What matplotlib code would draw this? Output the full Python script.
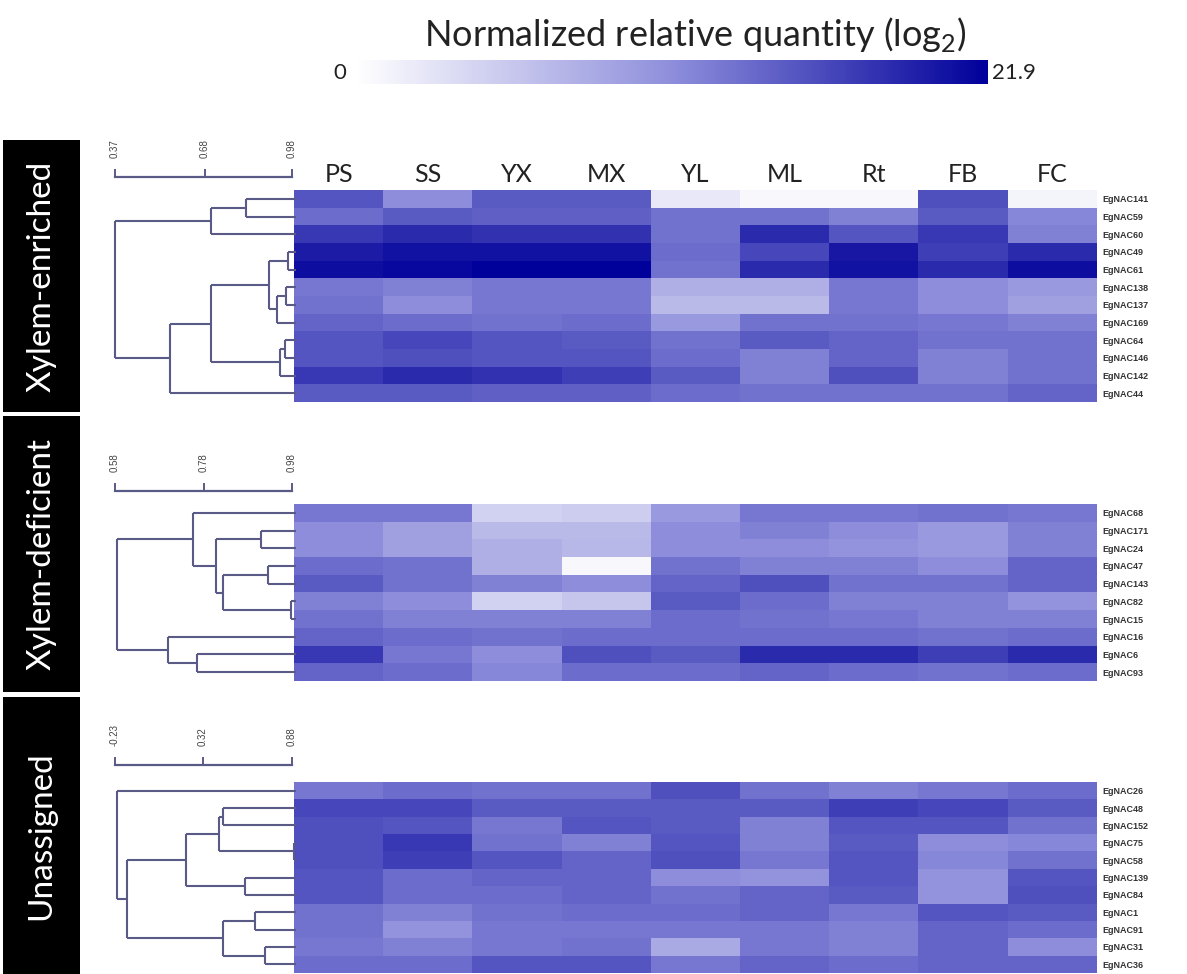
import matplotlib
matplotlib.use("Agg")
import matplotlib.pyplot as plt
import numpy as np
from matplotlib.colors import LinearSegmentedColormap, Normalize
from matplotlib.cm import ScalarMappable

plt.rcParams['font.family'] = ['Lato', 'DejaVu Sans']

# ---------------- data ----------------
tissues = ["PS", "SS", "YX", "MX", "YL", "ML", "Rt", "FB", "FC"]
vmin, vmax = 0.0, 21.9

genes_xe = ["EgNAC141", "EgNAC59", "EgNAC60", "EgNAC49", "EgNAC61", "EgNAC138",
            "EgNAC137", "EgNAC169", "EgNAC64", "EgNAC146", "EgNAC142", "EgNAC44"]
vals_xe = [
    [15.3, 11.0, 14.9, 14.9, 2.2, 0.7, 0.7, 15.8, 1.1],
    [13.6, 14.9, 14.5, 14.5, 13.1, 13.1, 12.0, 14.9, 11.4],
    [17.5, 18.6, 18.0, 18.0, 13.1, 18.6, 15.3, 17.5, 12.0],
    [19.7, 20.4, 20.4, 20.4, 13.6, 16.4, 20.1, 17.1, 18.6],
    [20.8, 21.2, 21.9, 21.9, 13.1, 18.6, 20.4, 18.6, 20.8],
    [12.7, 12.0, 12.7, 12.7, 7.7, 7.7, 12.7, 11.0, 9.9],
    [13.1, 11.0, 12.7, 12.7, 6.6, 6.6, 12.7, 11.0, 9.2],
    [14.2, 13.6, 13.1, 13.6, 9.9, 13.1, 13.1, 12.7, 12.0],
    [15.3, 16.4, 15.3, 14.9, 13.1, 14.9, 14.2, 13.1, 13.1],
    [15.3, 15.8, 15.3, 15.3, 13.6, 12.0, 14.2, 12.0, 13.1],
    [17.5, 18.6, 18.0, 17.1, 14.9, 12.0, 15.8, 12.0, 13.1],
    [14.9, 14.9, 14.5, 14.5, 13.6, 13.1, 13.1, 13.1, 14.2],
]
link_xe = [(0, 1, 0.82), (12, 2, 0.70), (3, 4, 0.965), (5, 6, 0.96), (15, 7, 0.93),
           (14, 16, 0.90), (8, 9, 0.955), (18, 10, 0.94), (17, 19, 0.70),
           (20, 11, 0.56), (13, 21, 0.37)]
ticks_xe = [0.37, 0.68, 0.98]

genes_xd = ["EgNAC68", "EgNAC171", "EgNAC24", "EgNAC47", "EgNAC143", "EgNAC82",
            "EgNAC15", "EgNAC16", "EgNAC6", "EgNAC93"]
vals_xd = [
    [12.7, 12.7, 4.4, 4.8, 9.9, 12.7, 12.7, 13.1, 12.7],
    [11.0, 9.2, 6.6, 6.6, 11.0, 12.0, 11.0, 9.9, 12.0],
    [11.0, 9.2, 7.7, 7.0, 11.0, 11.0, 10.5, 9.9, 12.0],
    [13.6, 13.1, 7.7, 0.7, 13.1, 12.0, 12.0, 11.0, 14.2],
    [14.9, 13.1, 12.0, 11.0, 14.2, 15.8, 13.1, 13.1, 14.2],
    [12.0, 11.0, 4.4, 5.5, 14.9, 13.6, 12.0, 12.0, 10.5],
    [13.1, 12.0, 12.0, 12.0, 13.6, 13.1, 12.7, 12.0, 12.0],
    [14.2, 13.6, 13.1, 13.6, 13.6, 13.6, 13.6, 13.1, 13.6],
    [17.5, 12.7, 11.0, 15.8, 14.9, 18.6, 18.6, 17.1, 18.6],
    [14.2, 13.6, 11.4, 13.6, 13.6, 14.2, 13.6, 13.1, 13.6],
]
link_xd = [(1, 2, 0.91), (3, 4, 0.925), (5, 6, 0.977), (11, 12, 0.823),
           (10, 13, 0.808), (0, 14, 0.757), (8, 9, 0.765), (7, 16, 0.699),
           (15, 17, 0.584)]
ticks_xd = [0.58, 0.78, 0.98]

genes_un = ["EgNAC26", "EgNAC48", "EgNAC152", "EgNAC75", "EgNAC58", "EgNAC139",
            "EgNAC84", "EgNAC1", "EgNAC91", "EgNAC31", "EgNAC36"]
vals_un = [
    [12.7, 13.6, 13.1, 13.1, 15.8, 13.1, 12.0, 12.7, 13.6],
    [16.4, 16.4, 14.9, 14.9, 14.9, 14.9, 17.1, 16.4, 14.9],
    [15.8, 15.3, 12.7, 15.3, 14.9, 12.0, 15.3, 15.3, 13.1],
    [15.8, 17.5, 13.1, 12.0, 15.3, 12.0, 14.9, 11.0, 11.4],
    [15.8, 17.1, 15.3, 14.2, 15.8, 12.7, 15.3, 11.4, 13.1],
    [15.3, 13.6, 14.2, 14.2, 11.0, 10.5, 15.3, 10.5, 15.3],
    [15.3, 13.6, 13.6, 14.2, 13.1, 14.2, 14.9, 10.5, 15.8],
    [13.1, 12.0, 13.1, 13.6, 13.6, 14.2, 12.7, 15.3, 14.9],
    [13.1, 10.5, 12.7, 12.7, 12.7, 12.7, 12.0, 14.2, 13.6],
    [12.7, 12.0, 12.7, 13.1, 8.3, 12.7, 12.0, 14.2, 11.0],
    [13.6, 13.6, 15.3, 15.3, 12.7, 14.2, 13.6, 14.2, 14.2],
]
link_un = [(1, 2, 0.445), (3, 4, 0.892), (11, 12, 0.425), (5, 6, 0.587),
           (13, 14, 0.213), (7, 8, 0.648), (9, 10, 0.709), (16, 17, 0.445),
           (15, 18, -0.153), (0, 19, -0.218)]
ticks_un = [-0.23, 0.32, 0.88]

group_names = ["Xylem-enriched", "Xylem-deficient", "Unassigned"]

# ---------------- layout (pixels) ----------------
W, H = 1187, 974
fig = plt.figure(figsize=(W / 100, H / 100), dpi=100)


def px_axes(x0, y0, x1, y1):
    return fig.add_axes([x0 / W, 1 - y1 / H, (x1 - x0) / W, (y1 - y0) / H])


cmap = LinearSegmentedColormap.from_list(
    "wb", [(0.0, "#ffffff"), (0.5, "#8e8edc"), (1.0, "#00009a")])

layout = [
    dict(hm=(190, 402), box=(140, 412), scale_y=177),
    dict(hm=(504, 681), box=(416, 692), scale_y=491),
    dict(hm=(782, 973), box=(697, 974), scale_y=765),
]
groups = [
    (genes_xe, vals_xe, link_xe, ticks_xe),
    (genes_xd, vals_xd, link_xd, ticks_xd),
    (genes_un, vals_un, link_un, ticks_un),
]

HM_X0, HM_X1 = 294, 1097
D_X0, D_X1 = 115, 296
S_X0, S_X1 = 115, 292
line_col = "#5a5a86"

for (genes, vals, link, ticks), lay, gname in zip(groups, layout, group_names):
    n = len(genes)
    y0, y1 = lay["hm"]
    # heatmap
    ax = px_axes(HM_X0, y0, HM_X1, y1)
    ax.imshow(np.array(vals), cmap=cmap, vmin=vmin, vmax=vmax, aspect="auto",
              interpolation="nearest")
    ax.set_xticks([])
    ax.set_yticks(range(n))
    ax.set_yticklabels(genes, fontsize=6.5, fontweight="bold",
                       family=["Liberation Sans", "DejaVu Sans"], color="#333333")
    ax.yaxis.tick_right()
    ax.tick_params(axis="y", length=0, pad=4)
    for s in ax.spines.values():
        s.set_visible(False)

    # dendrogram
    v0, v2 = ticks[0], ticks[-1]
    xmax = v0 + (D_X1 - S_X0) / (S_X1 - S_X0) * (v2 - v0)
    xmin = v0 - 4 / (S_X1 - S_X0) * (v2 - v0)
    dax = px_axes(D_X0 - 4, y0, D_X1, y1)
    dax.set_xlim(xmin, xmax)
    dax.set_ylim(n - 0.5, -0.5)
    dax.axis("off")
    pos = {i: (xmax, float(i)) for i in range(n)}
    for k, (a, b, h) in enumerate(link):
        xa, ya = pos[a]
        xb, yb = pos[b]
        dax.plot([h, h], [ya, yb], color=line_col, lw=1.5, solid_capstyle="butt")
        dax.plot([h, xa], [ya, ya], color=line_col, lw=1.5, solid_capstyle="butt")
        dax.plot([h, xb], [yb, yb], color=line_col, lw=1.5, solid_capstyle="butt")
        pos[n + k] = (h, (ya + yb) / 2)

    # scale bar
    sy = lay["scale_y"]
    sax = px_axes(S_X0, sy - 2, S_X1, sy)
    sax.set_xlim(v0, v2)
    sax.set_yticks([])
    for side in ["top", "left", "right"]:
        sax.spines[side].set_visible(False)
    sax.spines["bottom"].set_color(line_col)
    sax.spines["bottom"].set_linewidth(1.6)
    sax.set_xticks(ticks)
    sax.set_xticklabels([f"{t:.2f}" for t in ticks], rotation=90, fontsize=7,
                        family=["Liberation Sans", "DejaVu Sans"], color="#444444")
    sax.tick_params(axis="x", bottom=True, top=False, labelbottom=False,
                    labeltop=True, direction="in", length=6, width=1.4,
                    color=line_col, pad=12)
    sax.patch.set_alpha(0)

    # group label box
    b0, b1 = lay["box"]
    bax = px_axes(3, b0, 80, b1)
    bax.set_facecolor("black")
    bax.set_xticks([])
    bax.set_yticks([])
    for s in bax.spines.values():
        s.set_visible(False)
    bax.text(0.5, 0.5, gname, rotation=90, color="white", fontsize=24,
             ha="center", va="center", transform=bax.transAxes)

# column headers
hax = px_axes(HM_X0, 155, HM_X1, 195)
hax.set_xlim(-0.5, len(tissues) - 0.5)
hax.set_ylim(0, 1)
hax.axis("off")
for i, t in enumerate(tissues):
    hax.text(i, 0.5, t, ha="center", va="center", fontsize=18, color="#222222")

# colorbar
cax = px_axes(355, 60, 988, 84)
cb = fig.colorbar(ScalarMappable(norm=Normalize(vmin, vmax), cmap=cmap),
                  cax=cax, orientation="horizontal")
cb.outline.set_visible(False)
cb.set_ticks([])
fig.text(340 / W, 1 - 73 / H, "0", ha="center", va="center", fontsize=16,
         color="#222222")
fig.text(992 / W, 1 - 73 / H, "21.9", ha="left", va="center", fontsize=16,
         color="#222222")
fig.text(695 / W, 1 - 35 / H, r"Normalized relative quantity (log$_\mathregular{2}$)",
         ha="center", va="center", fontsize=26, color="#222222")

fig.savefig("out.png", dpi=100)
